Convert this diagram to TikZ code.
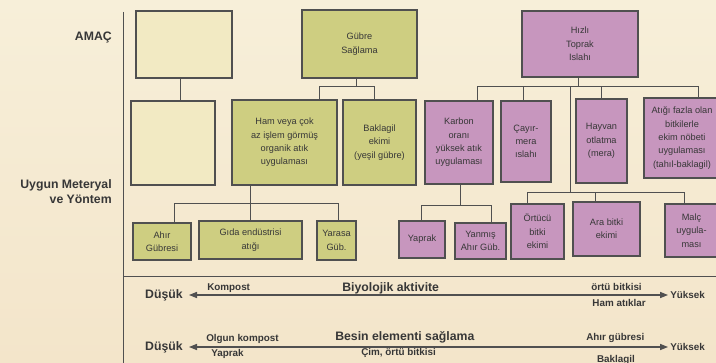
\documentclass[tikz,border=0pt]{standalone}
\usepackage{fontspec}
\setmainfont{Liberation Sans}
\usepackage{tikz}
\usetikzlibrary{arrows.meta}

\definecolor{zemin1}{RGB}{247,239,217}
\definecolor{zemin2}{RGB}{243,229,202}
\definecolor{soluk}{RGB}{242,234,195}
\definecolor{yesil}{RGB}{206,206,129}
\definecolor{mor}{RGB}{199,150,190}
\definecolor{kenar}{RGB}{80,80,80}
\definecolor{yazi}{RGB}{55,55,55}

\tikzset{
  kutu/.style={draw=kenar, line width=0.9pt, inner sep=0pt, outer sep=0pt, align=center,
    text=yazi, font=\fontsize{6.9}{10}\selectfont},
  boyut/.style 2 args={minimum width=#1*0.75pt, minimum height=#2*0.75pt},
  baslik/.style={inner sep=0pt, align=right, text=yazi, font=\fontsize{9.2}{11.3}\selectfont\bfseries},
  ucyazi/.style={inner sep=0pt, text=yazi, font=\fontsize{9.2}{11}\selectfont\bfseries},
  notyazi/.style={inner sep=0pt, text=yazi, font=\fontsize{7.4}{9}\selectfont\bfseries},
  baglanti/.style={draw=kenar, line width=0.75pt},
  eksen/.style={draw=kenar, line width=0.8pt, {Triangle[length=6pt,width=4.6pt]}-{Triangle[length=6pt,width=4.6pt]}}
}

\begin{document}
\begin{tikzpicture}[x=0.75pt,y=0.75pt,yscale=-1,xscale=1]
% background
\shade[top color=zemin1, bottom color=zemin2] (0,0) rectangle (716,363);
\useasboundingbox (0,0) rectangle (716,363);

% Frame
\coordinate (cizgiust) at (123,12);
\coordinate (cizgialt) at (123,363);
\coordinate (ayirac) at (716,276);
\draw [baglanti] (cizgiust) -- (cizgialt);
\draw [baglanti] (cizgiust |- ayirac) -- (ayirac);

% Text Node
\node [baslik, anchor=east] (amac) at (112,37) {AMAÇ};
% Text Node
\node [baslik, anchor=east] (yontem) at (112,192) {Uygun Meteryal\\ve Yöntem};

% Boxes, first column
\node [kutu, fill=soluk, boyut={96}{67}] (bos1) at (184,44.5) {};
\node [kutu, fill=soluk, boyut={84}{84}] (bos2) at (173,143) {};
% Boxes, Gübre
\node [kutu, fill=yesil, boyut={115}{68}] (gubre) at (359.5,44) {Gübre\\Sağlama};
\node [kutu, fill=yesil, boyut={105}{85}] (ham) at (284.5,142.5) {Ham veya çok\\az işlem görmüş\\organik atık\\uygulaması};
\node [kutu, fill=yesil, boyut={73}{85}] (baklagil) at (379.5,142.5) {Baklagil\\ekimi\\(yeşil gübre)};
\node [kutu, fill=yesil, boyut={58}{37}] (ahir) at (162,241.5) {Ahır\\Gübresi};
\node [kutu, fill=yesil, boyut={103}{38}] (gida) at (250.5,240) {Gıda endüstrisi\\atığı};
\node [kutu, fill=yesil, boyut={39}{39}] (yarasa) at (336.5,240.5) {Yarasa\\Güb.};
% Boxes, Toprak Islahı
\node [kutu, fill=mor, boyut={116}{66}] (hizli) at (580,44) {Hızlı\\Toprak\\Islahı};
\node [kutu, fill=mor, boyut={68}{83}] (karbon) at (459,142.5) {Karbon\\oranı\\yüksek atık\\uygulaması};
\node [kutu, fill=mor, boyut={50}{81}] (cayir) at (526,141.5) {Çayır-\\mera\\ıslahı};
\node [kutu, fill=mor, boyut={51}{84}] (hayvan) at (601.5,141) {Hayvan\\otlatma\\(mera)};
\node [kutu, fill=mor, boyut={76}{80}] (atigi) at (682,138) {Atığı fazla olan\\bitkilerle\\ekim nöbeti\\uygulaması\\(tahıl-baklagil)};
\node [kutu, fill=mor, boyut={46}{37}] (yaprak) at (422,239.5) {Yaprak};
\node [kutu, fill=mor, boyut={51}{36}] (yanmis) at (480.5,241) {Yanmış\\Ahır Güb.};
\node [kutu, fill=mor, boyut={53}{55}] (ortucu) at (537.5,231.5) {Örtücü\\bitki\\ekimi};
\node [kutu, fill=mor, boyut={67}{54}] (arabitki) at (606.5,229) {Ara bitki\\ekimi};
\node [kutu, fill=mor, boyut={53}{53}] (malc) at (691.5,230.5) {Malç\\uygula-\\ması};

% Connection
\coordinate (bk) at (180,90);
\draw [baglanti] (bk |- bos1.south) -- (bk |- bos2.north);
% Connection
\coordinate (gk) at (356,87);
\coordinate (g1) at (319,87);
\coordinate (g2) at (374,87);
\draw [baglanti] (gk |- gubre.south) -- (gk);
\draw [baglanti] (g1 |- ham.north) -- (g1) -- (g2) -- (g2 |- baklagil.north);
% Connection
\coordinate (hk) at (250,203);
\coordinate (h1) at (174,203);
\coordinate (h2) at (338,203);
\draw [baglanti] (hk |- ham.south) -- (hk |- gida.north);
\draw [baglanti] (h1 |- ahir.north) -- (h1) -- (h2) -- (h2 |- yarasa.north);
% Connection
\coordinate (tk) at (578,87);
\coordinate (t1) at (477,87);
\coordinate (t2) at (523,87);
\coordinate (t3) at (570,87);
\coordinate (t4) at (601,87);
\coordinate (t5) at (698,87);
\draw [baglanti] (tk |- hizli.south) -- (tk);
\draw [baglanti] (t1 |- karbon.north) -- (t1) -- (t5) -- (t5 |- atigi.north);
\draw [baglanti] (t2) -- (t2 |- cayir.north);
\draw [baglanti] (t4) -- (t4 |- hayvan.north);
% Connection
\coordinate (ak) at (570,193);
\coordinate (a1) at (527,193);
\coordinate (a2) at (595,193);
\coordinate (a3) at (684,193);
\draw [baglanti] (t3) -- (ak);
\draw [baglanti] (a1 |- ortucu.north) -- (a1) -- (a3) -- (a3 |- malc.north);
\draw [baglanti] (a2) -- (a2 |- arabitki.north);
% Connection
\coordinate (kk) at (460,205);
\coordinate (k1) at (421,205);
\coordinate (k2) at (491,205);
\draw [baglanti] (kk |- karbon.south) -- (kk);
\draw [baglanti] (k1 |- yaprak.north) -- (k1) -- (k2) -- (k2 |- yanmis.north);

% Text Node
\node [ucyazi, anchor=east] (dusuk1) at (183,295) {Düşük};
\node [notyazi, anchor=west] (yuksek1) at (670,295) {Yüksek};
\node [notyazi, anchor=west] (kompost) at (207,288) {Kompost};
\node [ucyazi, anchor=west] (biyolojik) at (342,288) {Biyolojik aktivite};
\node [notyazi, anchor=east] (ortu1) at (642,287) {örtü bitkisi};
\node [notyazi] (hamatik) at (619,303) {Ham atıklar};
% Connection
\draw [eksen] ([xshift=4.5pt]dusuk1.east) -- ([xshift=-1.5pt]dusuk1.east -| yuksek1.west);

% Text Node
\node [ucyazi, anchor=east] (dusuk2) at (183,347) {Düşük};
\node [notyazi, anchor=west] (yuksek2) at (670,347) {Yüksek};
\node [notyazi, anchor=west] (olgun) at (206,339) {Olgun kompost};
\node [notyazi, anchor=west] (yaprak2) at (211,354) {Yaprak};
\node [ucyazi, anchor=west] (besin) at (335,337) {Besin elementi sağlama};
\node [notyazi, anchor=west] (cim) at (361,353) {Çim, örtü bitkisi};
\node [notyazi, anchor=west] (ahirgubre) at (586,338) {Ahır gübresi};
\node [notyazi] (baklagil2) at (616,360) {Baklagil};
% Connection
\draw [eksen] ([xshift=4.5pt]dusuk2.east) -- ([xshift=-1.5pt]dusuk2.east -| yuksek2.west);

\end{tikzpicture}
\end{document}
